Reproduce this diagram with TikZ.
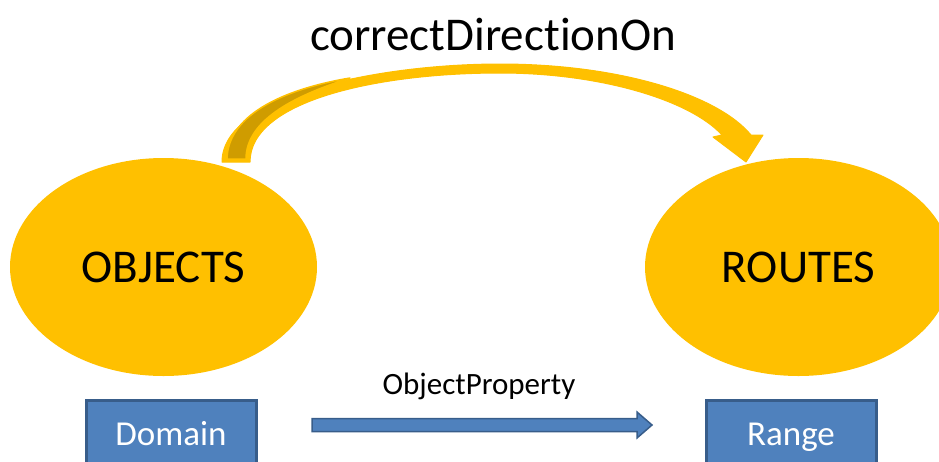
\documentclass[tikz,border=0pt]{standalone}
\usepackage{fontspec}
\setmainfont{Carlito}[Ligatures=NoCommon, RawFeature={-liga;-clig;-dlig}]
\usetikzlibrary{shapes.geometric}
\definecolor{gold}{HTML}{FFC000}
\definecolor{golddark}{HTML}{CF9C00}
\definecolor{boxblue}{HTML}{4F81BD}
\definecolor{boxedge}{HTML}{385D8A}
\tikzset{
  blob/.style={ellipse, fill=gold, draw=none, minimum width=307pt, minimum height=218pt, inner sep=0pt, font=\fontsize{47}{56}\selectfont},
  tag/.style={rectangle, fill=boxblue, draw=boxedge, line width=3pt, minimum width=170pt, minimum height=70pt, inner sep=0pt, text=white, font=\fontsize{35}{42}\selectfont, text height=23pt, text depth=1.5pt},
  bigtext/.style={font=\fontsize{47}{56}\selectfont, inner sep=0pt},
  smalltext/.style={font=\fontsize{31}{37}\selectfont, inner sep=0pt},
}
\begin{document}
\begin{tikzpicture}[x=1pt, y=-1pt]
  \useasboundingbox (0,0) rectangle (939,461);
  \clip (0,0) rectangle (939,461);

  % the two classes
  \node[blob] (objects) at (163.5,267) {OBJECTS};
  \node[blob] (routes) at (798.5,267) {ROUTES};

  % domain and range tags
  \node[tag] (domain) at (171,435) {Domain};
  \node[tag] (range) at (791,435) {Range};

  % curved property arrow from OBJECTS to ROUTES
  \coordinate (arcstart) at (222,162);
  \coordinate (arctip) at (746,162);
  \fill[gold, draw=gold, line width=1pt, line join=round]
    (arcstart) .. controls (222,95) and (380,64) .. (500,64)
    .. controls (620,64) and (718,95) .. (751,135)
    -- (763,135) -- (arctip) -- (713,137) -- (722,135)
    .. controls (690,100) and (600,73) .. (500,73)
    .. controls (380,73) and (250,100) .. (250,162) -- cycle;
  % shaded underside near the tail
  \fill[golddark, draw=gold, line width=1.5pt, line join=round]
    (227,159) .. controls (228,112) and (290,88) .. (350,78)
    .. controls (300,94) and (246,118) .. (246,159) -- cycle;

  \node[bigtext] (label) at (493,35) {correctDirect\kern0pt ionOn};

  % straight ObjectProperty arrow
  \coordinate (pstart) at (312,425);
  \coordinate (ptip) at (652,425);
  \filldraw[fill=boxblue, draw=boxedge, line width=1.5pt, line join=miter]
    (pstart) ++(0,-6.5) -- (637,418.5) -- (637,412) -- (ptip) -- (637,438)
    -- (637,431.5) -- (312,431.5) -- cycle;
  \node[smalltext] (plabel) at (479,386) {ObjectProperty};
\end{tikzpicture}
\end{document}
